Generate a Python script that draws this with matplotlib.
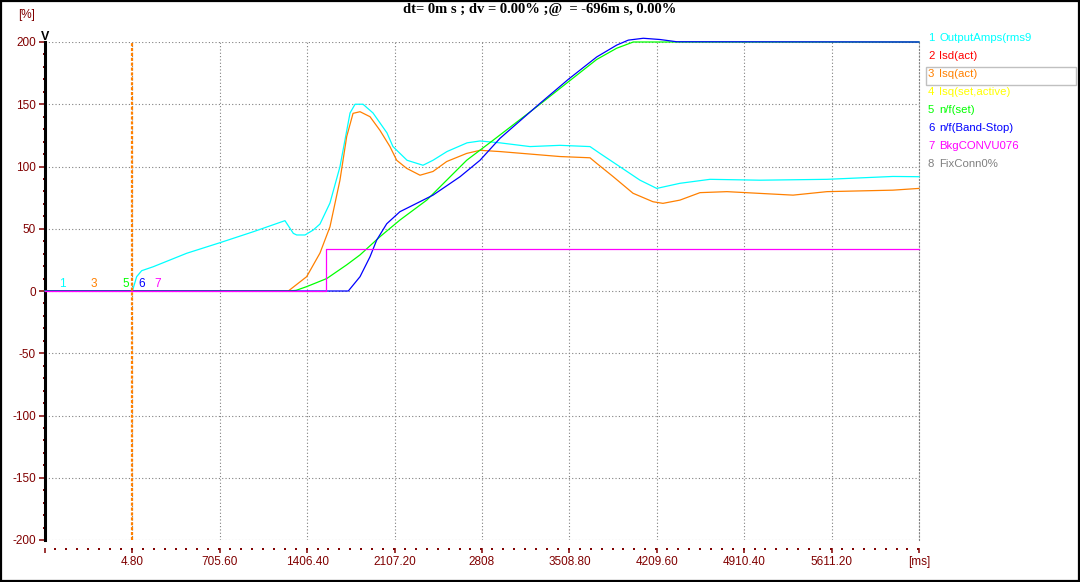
import matplotlib
matplotlib.use("Agg")
import matplotlib.pyplot as plt
from matplotlib.ticker import FixedLocator, FixedFormatter, MultipleLocator
from matplotlib.patches import Rectangle

plt.rcParams["axes.unicode_minus"] = False

# ===== data =====
x_start = -696.0
x_step = 700.8
x_ticks = [x_start + k * x_step for k in range(11)]
x_tick_labels = ["", "4.80", "705.60", "1406.40", "2107.20", "2808",
                 "3508.80", "4209.60", "4910.40", "5611.20", "[ms]"]

# 1 OutputAmps(rms9
t_amps = [-696, 4.8, 39, 79, 172, 440, 707, 974, 1228, 1295, 1322, 1389, 1455,
          1509, 1589, 1669, 1750, 1790, 1854, 1934, 2046, 2094, 2207, 2335,
          2415, 2527, 2688, 2792, 2952, 3193, 3433, 3674, 3754, 3914, 4075,
          4209, 4395, 4636, 5037, 5574, 6103, 6312]
v_amps = [0, 0, 11.5, 16.3, 19.5, 30.3, 38.8, 47.6, 56.5, 46.3, 45, 45, 49,
          53.8, 70.7, 99.8, 143, 150, 150, 143, 127, 116, 105, 101,
          105, 112, 119, 120.5, 119, 116, 117, 116, 110.5, 99.8, 89,
          82.4, 86.5, 89.7, 89, 89.7, 92, 91.8]

# 3 Isq(act)
t_isq = [-696, 1255, 1402, 1509, 1589, 1669, 1723, 1774, 1830, 1910, 1990,
         2070, 2124, 2204, 2311, 2415, 2525, 2685, 2792, 2952, 3193, 3433,
         3674, 3728, 3858, 4019, 4179, 4259, 4395, 4556, 4772, 5302, 5574,
         6103, 6312]
v_isq = [0, 0, 11.5, 30.5, 51.6, 89, 124, 142.7, 144, 140, 129,
         116, 105, 98.5, 93, 96, 104, 110.5, 113, 112, 110, 108,
         107, 102.5, 92, 78.5, 71.7, 70.4, 73, 79, 79.8, 77, 79.8,
         81, 82.4]

# 5 n/f(set)
t_nset = [-696, 1255, 1317, 1402, 1563, 1723, 1830, 1990, 2150, 2365, 2525,
          2685, 2896, 3273, 3500, 3728, 3888, 4021, 6312]
v_nset = [0, 0, 0.5, 3.5, 10, 21, 29, 43.6, 57, 73, 89,
          105, 121, 150, 168, 186, 195, 200, 200]

# 6 n/f(Band-Stop)
t_nbs = [-696, 1736, 1830, 1910, 1964, 2044, 2150, 2284, 2415, 2632, 2792,
         2952, 3273, 3500, 3728, 3888, 3981, 4101, 4235, 4369, 6312]
v_nbs = [0, 0, 11.5, 27.5, 41, 54, 63.7, 70.4, 77, 91.8, 105,
         122.6, 150.7, 170, 188, 197.5, 201.5, 203, 202, 200.2, 200]

# 7 BkgCONVU076
t_bkg = [-696, 1555, 1555, 1560, 1560, 6312]
v_bkg = [0, 0, 16.6, 16.6, 33.5, 33.5]

cursor_t = 4.8

legend_nums = ["1", "2", "3", "4", "5", "6", "7", "8"]
legend_names = ["OutputAmps(rms9", "Isd(act)", "Isq(act)", "Isq(set,active)",
                "n/f(set)", "n/f(Band-Stop)", "BkgCONVU076", "FixConn0%"]
legend_colors = ["#00FFFF", "#FF0000", "#FF8000", "#FFFF00",
                 "#00FF00", "#0000FF", "#FF00FF", "#808080"]

W, H = 1080, 582
MAROON = "#800000"


def px(x, y):
    return x / W, 1 - y / H


fig = plt.figure(figsize=(W / 100, H / 100), dpi=100)
fig.patch.set_facecolor("white")

x0, y0 = px(45, 540)
x1, y1 = px(919, 42)
ax = fig.add_axes([x0, y0, x1 - x0, y1 - y0])

ax.set_xlim(x_ticks[0], x_ticks[-1])
ax.set_ylim(-200, 200)

# ===== grid =====
ax.xaxis.set_major_locator(FixedLocator(x_ticks))
ax.xaxis.set_major_formatter(FixedFormatter(x_tick_labels))
ax.xaxis.set_minor_locator(MultipleLocator(x_step / 8))
ax.yaxis.set_major_locator(MultipleLocator(50))
ax.yaxis.set_minor_locator(MultipleLocator(10))
ax.grid(True, which="major", color="#808080", linestyle=(0, (1, 2)), linewidth=0.8)
ax.set_axisbelow(True)

ax.spines["top"].set_visible(False)
ax.spines["right"].set_color("#808080")
ax.spines["right"].set_linestyle((0, (1, 2)))
ax.spines["right"].set_linewidth(0.8)
ax.spines["left"].set_color("black")
ax.spines["left"].set_linewidth(2.2)

# bottom ticks sit a bit below the plot
ax.spines["bottom"].set_linewidth(0)
ax.spines["bottom"].set_position(("outward", 6))

ax.tick_params(axis="x", which="major", direction="out", length=3.5, width=1.1,
               color=MAROON, labelcolor=MAROON, labelsize=8.5, pad=2)
ax.tick_params(axis="x", which="minor", direction="out", length=1.3, width=1.4,
               color=MAROON)
ax.tick_params(axis="y", which="major", direction="out", length=4.5, width=1.1,
               color=MAROON, labelcolor=MAROON, labelsize=8.5, pad=2)
ax.tick_params(axis="y", which="minor", direction="out", length=1.3, width=1.4,
               color=MAROON)
for lab in ax.get_xticklabels() + ax.get_yticklabels():
    lab.set_fontfamily("Liberation Sans")

# ===== traces =====
lw = 0.9
ax.plot(t_amps, v_amps, color="#00FFFF", lw=lw, zorder=3, clip_on=False)
ax.plot(t_isq, v_isq, color="#FF8000", lw=lw, zorder=4, clip_on=False)
ax.plot(t_nset, v_nset, color="#00FF00", lw=lw, zorder=5, clip_on=False)
ax.plot(t_nbs, v_nbs, color="#0000FF", lw=lw, zorder=6, clip_on=False)
ax.plot(t_bkg, v_bkg, color="#FF00FF", lw=lw, zorder=7, clip_on=False)

# cursor
ax.axvline(cursor_t, color="#FF8000", lw=1.6, linestyle=(0, (1.4, 0.8)), zorder=8)

# small channel markers on the zero line
for num, xx, col in [("1", 62, "#00FFFF"), ("3", 93.7, "#FF8000"),
                     ("5", 126, "#00FF00"), ("6", 142, "#0000FF"),
                     ("7", 157.7, "#FF00FF")]:
    fx, fy = px(xx, 284)
    fig.text(fx, fy, num, color=col, fontsize=8.5, ha="center", va="center",
             family="Liberation Sans")

# axis marker at the top of the y axis
fx, fy = px(45, 37)
fig.text(fx, fy, "V", fontsize=9, fontweight="bold", ha="center", va="center",
         family="Liberation Sans", color="black")

# unit label
fx, fy = px(27, 15)
fig.text(fx, fy, "[%]", color=MAROON, fontsize=8.5, ha="center", va="center",
         family="Liberation Sans")

# title
fx, fy = px(540, 10)
fig.text(fx, fy, "dt= 0m s ; dv = 0.00% ;@  = -696m s, 0.00%",
         fontsize=10.5, fontweight="bold", ha="center", va="center",
         family="Liberation Serif")

# ===== legend =====
for i, (num, name, col) in enumerate(zip(legend_nums, legend_names, legend_colors)):
    yy = 38 + 18 * i
    fx, fy = px(928, yy)
    fig.text(fx, fy, num, color=col, fontsize=8.2, ha="left", va="center",
             family="Liberation Sans")
    fx, fy = px(939, yy)
    fig.text(fx, fy, name, color=col, fontsize=8.2, ha="left", va="center",
             family="Liberation Sans")

bx0, by0 = px(926, 85)
bx1, by1 = px(1076, 67)
fig.patches.append(Rectangle((bx0, by0), bx1 - bx0, by1 - by0, transform=fig.transFigure,
                             fill=False, edgecolor="#C0C0C0", lw=1.0))

# outer frame
fig.patches.append(Rectangle((0.0008, 0.0012), 0.9984, 0.9976, transform=fig.transFigure,
                             fill=False, edgecolor="black", lw=1.6))

fig.savefig("out.png", dpi=100)
